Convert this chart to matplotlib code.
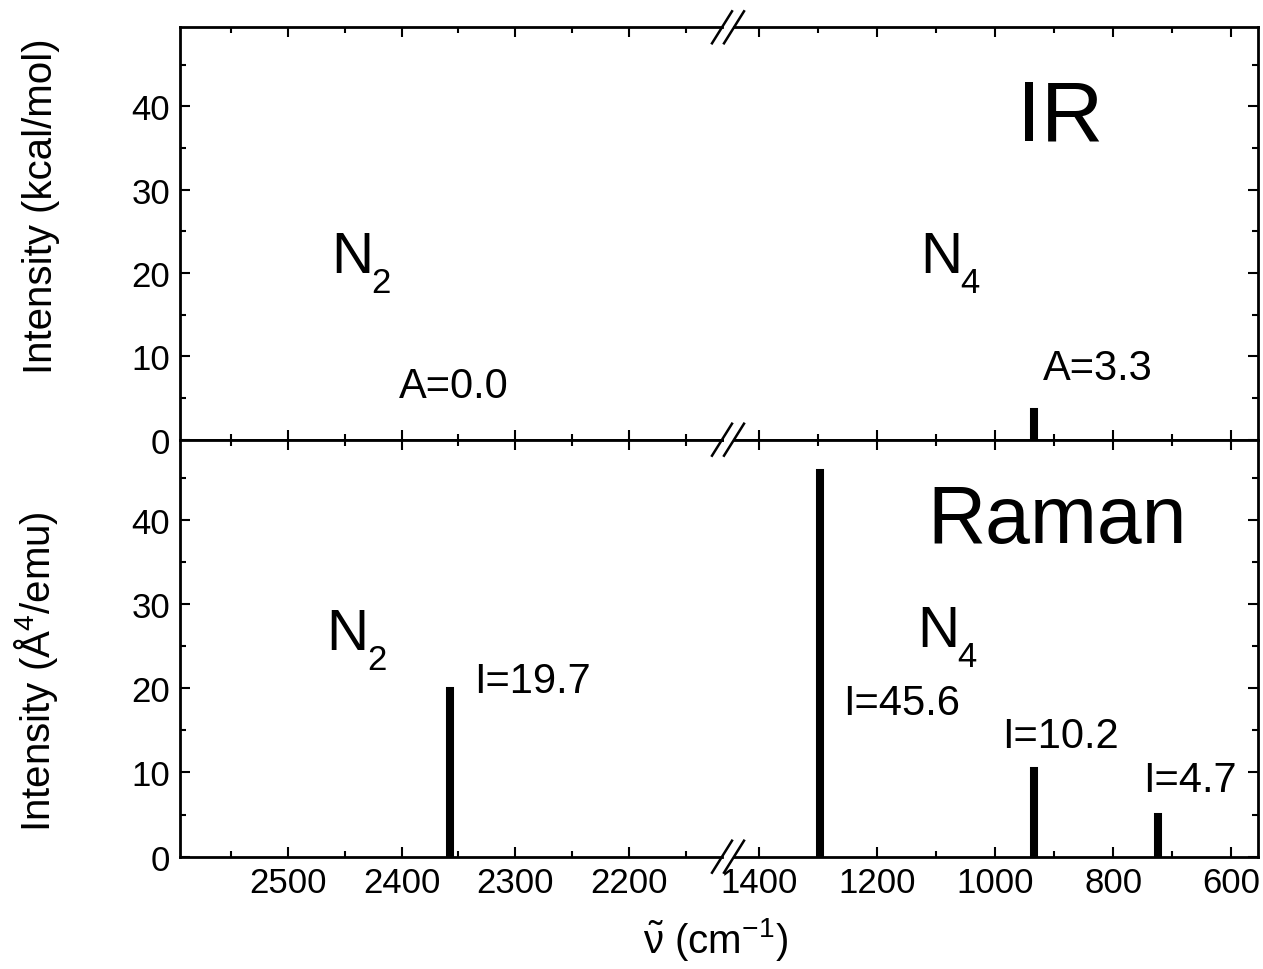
import numpy as np
import matplotlib
matplotlib.use("Agg")
import matplotlib.pyplot as plt
from matplotlib.ticker import MultipleLocator
from matplotlib.lines import Line2D

plt.rcParams['font.family'] = ['Liberation Sans', 'DejaVu Sans']
plt.rcParams['mathtext.fontset'] = 'custom'
plt.rcParams['mathtext.rm'] = 'Liberation Sans'
plt.rcParams['mathtext.it'] = 'Liberation Sans'
plt.rcParams['mathtext.bf'] = 'Liberation Sans:bold'

# data (wavenumber cm-1, intensity)
ir_freq = [2357, 935]
ir_int = [0.0, 3.3]
raman_freq = [2357, 1297, 935, 724]
raman_int = [19.7, 45.6, 10.2, 4.7]

# label positions (data coords) for the value annotations
ir_lab_pos = [(2402, 5.1), (919, 7.3)]
raman_lab_pos = [(2336, 19.5), (1257, 16.9), (988, 13.0), (750, 7.8)]

xlim_left = (2595, 2118)
xlim_right = (1442, 555)
ylim = (0, 49.5)

W, H = 1263, 970
fig = plt.figure(figsize=(W / 100, H / 100), dpi=100)

lx0, lw = 180 / W, 542 / W
rx0, rw = 734 / W, 524 / W
ty0, th = 1 - 440.7 / H, 412.4 / H
by0, bh = 1 - 857.7 / H, 417.0 / H

ax_tl = fig.add_axes([lx0, ty0, lw, th])
ax_tr = fig.add_axes([rx0, ty0, rw, th])
ax_bl = fig.add_axes([lx0, by0, lw, bh])
ax_br = fig.add_axes([rx0, by0, rw, bh])

for ax in [ax_tl, ax_tr, ax_bl, ax_br]:
    ax.set_ylim(*ylim)
    ax.yaxis.set_major_locator(MultipleLocator(10))
    ax.yaxis.set_minor_locator(MultipleLocator(5))
    for s in ax.spines.values():
        s.set_linewidth(2.0)
    ax.tick_params(which='both', direction='in', top=True, bottom=True,
                   width=1.5, labelsize=25, pad=7)
    ax.tick_params(which='major', length=7)
    ax.tick_params(which='minor', length=4)

for ax in [ax_tl, ax_bl]:
    ax.set_xlim(*xlim_left)
    ax.xaxis.set_major_locator(MultipleLocator(100))
    ax.xaxis.set_minor_locator(MultipleLocator(50))
    ax.spines['right'].set_visible(False)
    ax.tick_params(which='both', left=True, right=False)

for ax in [ax_tr, ax_br]:
    ax.set_xlim(*xlim_right)
    ax.xaxis.set_major_locator(MultipleLocator(200))
    ax.xaxis.set_minor_locator(MultipleLocator(100))
    ax.spines['left'].set_visible(False)
    ax.tick_params(which='both', left=False, right=True, labelleft=False)

for ax in [ax_tl, ax_tr]:
    ax.tick_params(labelbottom=False)

# sticks
def sticks(ax_l, ax_r, freq, inten):
    for f, v in zip(freq, inten):
        if v <= 0:
            continue
        ax = ax_l if f > 2000 else ax_r
        ax.vlines(f, 0, v, colors='k', linewidth=5.8, capstyle='projecting')

sticks(ax_tl, ax_tr, ir_freq, ir_int)
sticks(ax_bl, ax_br, raman_freq, raman_int)

for (f, v), (px, py) in zip(zip(ir_freq, ir_int), ir_lab_pos):
    ax = ax_tl if f > 2000 else ax_tr
    ax.text(px, py, "A=%.1f" % v, fontsize=30, ha='left', va='baseline')
for (f, v), (px, py) in zip(zip(raman_freq, raman_int), raman_lab_pos):
    ax = ax_bl if f > 2000 else ax_br
    ax.text(px, py, "I=%.1f" % v, fontsize=30, ha='left', va='baseline')

# species labels, N with a dropped subscript
def species(ax, x, y, sub):
    ax.text(x, y, "N", fontsize=42, ha='left', va='baseline')
    ax.annotate(sub, xy=(x, y), xytext=(29, -14), textcoords='offset points',
                fontsize=25, ha='left', va='baseline')

species(ax_tl, 2462, 20.1, "2")
species(ax_tr, 1127, 20.1, "4")
species(ax_bl, 2466, 24.6, "2")
species(ax_br, 1132, 25.0, "4")

ax_tr.text(963, 36.0, "IR", fontsize=62, ha='left', va='baseline')
ax_br.text(1115, 37.3, "Raman", fontsize=58, ha='left', va='baseline')

ax_tl.set_ylabel("Intensity (kcal/mol)", fontsize=29)
ax_tl.yaxis.set_label_coords(-0.222, 0.569)
ax_bl.set_ylabel(r"Intensity ($\mathrm{\AA}^4$/emu)", fontsize=29)
ax_bl.yaxis.set_label_coords(-0.222, 0.446)

fig.text(715 / W, 1 - 940 / H, r"$\tilde{\nu}$ (cm$^{-1}$)", fontsize=29,
         ha='center', va='center')

# break marks
xb = 728 / W
for yp in [28.3, 440.7, 857.7]:
    yc = 1 - yp / H
    for dx in [-6, 6]:
        x0 = xb + (dx - 10) / W
        x1 = xb + (dx + 10) / W
        fig.add_artist(Line2D([x0, x1], [yc - 16 / H, yc + 16 / H],
                              color='k', linewidth=1.8))

fig.savefig("out.png", dpi=100)
